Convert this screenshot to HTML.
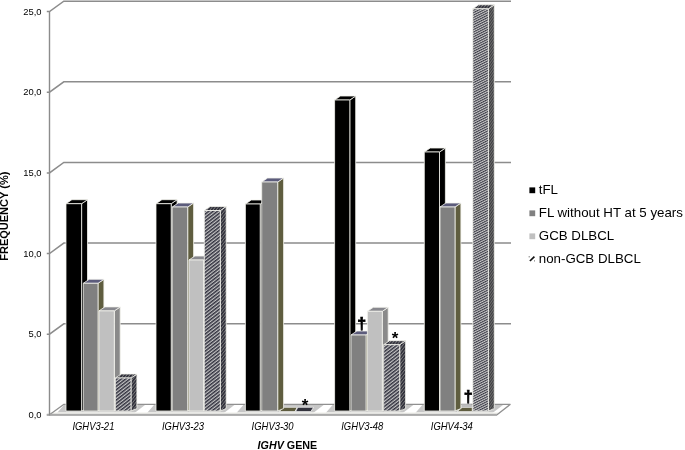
<!DOCTYPE html><html><head><meta charset="utf-8"><title>IGHV gene frequency</title>
<style>html,body{margin:0;padding:0;background:#fff}svg{display:block}text{font-family:"Liberation Sans",Arial,sans-serif;fill:#000}</style></head><body>
<svg width="685" height="450" viewBox="0 0 685 450">
<defs>
<pattern id="hp" width="4" height="2.7" patternUnits="userSpaceOnUse" patternTransform="rotate(-38)"><rect width="4" height="2.7" fill="#c4c4c4"/><rect width="4" height="1.45" fill="#30303e"/></pattern>
<pattern id="hp2" width="4" height="2.15" patternUnits="userSpaceOnUse" patternTransform="rotate(-27)"><rect width="4" height="2.15" fill="#c8c8c8"/><rect width="4" height="1.05" fill="#3a3a46"/></pattern>
<pattern id="hpd" width="4" height="2.4" patternUnits="userSpaceOnUse" patternTransform="rotate(-52)"><rect width="4" height="2.4" fill="#7c7c7c"/><rect width="4" height="1.5" fill="#2c2c38"/></pattern>
<pattern id="hpd2" width="4" height="2" patternUnits="userSpaceOnUse" patternTransform="rotate(-55)"><rect width="4" height="2" fill="#7a7a7a"/><rect width="4" height="1.2" fill="#3c3c40"/></pattern>
</defs>
<rect width="685" height="450" fill="#fff"/>
<path d="M46.8 11.6H49.5L63.8 1.2H511" fill="none" stroke="#8c8c8c" stroke-width="1.5"/>
<path d="M46.8 92.2H49.5L63.8 81.8H511" fill="none" stroke="#8c8c8c" stroke-width="1.5"/>
<path d="M46.8 172.9H49.5L63.8 162.5H511" fill="none" stroke="#8c8c8c" stroke-width="1.5"/>
<path d="M46.8 253.5H49.5L63.8 243.1H511" fill="none" stroke="#8c8c8c" stroke-width="1.5"/>
<path d="M46.8 334.2H49.5L63.8 323.8H511" fill="none" stroke="#8c8c8c" stroke-width="1.5"/>
<path d="M49.5 415L64 404.3H510.4L497 415Z" fill="#c6c6c6"/>
<path d="M44.5 413L55.0 405H64.0L57.0 413Z" fill="#fff"/>
<path d="M134.5 413L145.0 405H154.0L147.0 413Z" fill="#fff"/>
<path d="M223.9 413L234.4 405H243.4L236.4 413Z" fill="#fff"/>
<path d="M313.1 413L323.6 405H332.6L325.6 413Z" fill="#fff"/>
<path d="M402.8 413L413.3 405H422.3L415.3 413Z" fill="#fff"/>
<path d="M492.5 413L503.0 405H512.0L505.0 413Z" fill="#fff"/>
<path d="M49.5 412.2H498V414H49.5Z" fill="#f4f4f0"/>
<path d="M46.8 414.8H497L510.4 404.3H64L49.5 414.8" fill="none" stroke="#909090" stroke-width="1.3" stroke-linejoin="bevel"/>
<path d="M46.8 414.8H497" fill="none" stroke="#aaa" stroke-width="2"/>
<path d="M49.5 11V415.5" stroke="#8c8c8c" stroke-width="1.4" fill="none"/>
<path d="M279.4 411.6L283 407.3H297.2L295 411.6Z" fill="#5f5d3f" stroke="#fff" stroke-width="0.7"/>
<path d="M295.6 411.6L297.8 407.3H313.6L310.8 411.6Z" fill="#33333d" stroke="#fff" stroke-width="0.7"/>
<path d="M457.3 411.5L462 407.4H472.2V411.5Z" fill="#5f5d3f" stroke="#fff" stroke-width="0.6"/>
<rect x="462" y="404.2" width="9.5" height="3" fill="#bdbdbd"/>
<path d="M81.6 411.0V203.7L87.5 199.7V408.5Z" fill="#000" stroke="#f4f4ee" stroke-width="0.8" stroke-linejoin="round"/>
<path d="M66 203.7L71.9 199.7H87.5L81.6 203.7Z" fill="#000" stroke="#f4f4ee" stroke-width="0.8" stroke-linejoin="round"/>
<path d="M66 411.0V203.7H81.6V411.0Z" fill="#000" stroke="#f4f4ee" stroke-width="0.8" stroke-linejoin="round"/>
<path d="M98 411.0V283.3L103.9 279.3V408.5Z" fill="#5f5d3f" stroke="#f4f4ee" stroke-width="0.8" stroke-linejoin="round"/>
<path d="M83.3 283.3L89.2 279.3H103.9L98 283.3Z" fill="#5c5c7c" stroke="#f4f4ee" stroke-width="0.8" stroke-linejoin="round"/>
<path d="M83.3 411.0V283.3H98V411.0Z" fill="#808080" stroke="#f4f4ee" stroke-width="0.8" stroke-linejoin="round"/>
<path d="M114.3 411.0V310.9L120.2 306.9V408.5Z" fill="#8a8a8a" stroke="#f4f4ee" stroke-width="0.8" stroke-linejoin="round"/>
<path d="M99 310.9L104.9 306.9H120.2L114.3 310.9Z" fill="#88888e" stroke="#f4f4ee" stroke-width="0.8" stroke-linejoin="round"/>
<path d="M99 411.0V310.9H114.3V411.0Z" fill="#c0c0c0" stroke="#f4f4ee" stroke-width="0.8" stroke-linejoin="round"/>
<path d="M131 411.0V378L136.9 374.0V408.5Z" fill="url(#hpd)" stroke="#f4f4ee" stroke-width="0.8" stroke-linejoin="round"/>
<path d="M115.4 378L121.3 374.0H136.9L131 378Z" fill="url(#hpd)" stroke="#f4f4ee" stroke-width="0.8" stroke-linejoin="round"/>
<path d="M115.4 411.0V378H131V411.0Z" fill="url(#hp)" stroke="#f4f4ee" stroke-width="0.8" stroke-linejoin="round"/>
<path d="M171.2 411.0V203.7L177.1 199.7V408.5Z" fill="#000" stroke="#f4f4ee" stroke-width="0.8" stroke-linejoin="round"/>
<path d="M156 203.7L161.9 199.7H177.1L171.2 203.7Z" fill="#000" stroke="#f4f4ee" stroke-width="0.8" stroke-linejoin="round"/>
<path d="M156 411.0V203.7H171.2V411.0Z" fill="#000" stroke="#f4f4ee" stroke-width="0.8" stroke-linejoin="round"/>
<path d="M187.7 411.0V207L193.6 203.0V408.5Z" fill="#5f5d3f" stroke="#f4f4ee" stroke-width="0.8" stroke-linejoin="round"/>
<path d="M172.3 207L178.2 203.0H193.6L187.7 207Z" fill="#5c5c7c" stroke="#f4f4ee" stroke-width="0.8" stroke-linejoin="round"/>
<path d="M172.3 411.0V207H187.7V411.0Z" fill="#808080" stroke="#f4f4ee" stroke-width="0.8" stroke-linejoin="round"/>
<path d="M203.7 411.0V260L209.6 256.0V408.5Z" fill="#8a8a8a" stroke="#f4f4ee" stroke-width="0.8" stroke-linejoin="round"/>
<path d="M189 260L194.9 256.0H209.6L203.7 260Z" fill="#88888e" stroke="#f4f4ee" stroke-width="0.8" stroke-linejoin="round"/>
<path d="M189 411.0V260H203.7V411.0Z" fill="#c0c0c0" stroke="#f4f4ee" stroke-width="0.8" stroke-linejoin="round"/>
<path d="M220.3 411.0V210.5L226.2 206.5V408.5Z" fill="url(#hpd)" stroke="#f4f4ee" stroke-width="0.8" stroke-linejoin="round"/>
<path d="M204.3 210.5L210.2 206.5H226.2L220.3 210.5Z" fill="url(#hpd)" stroke="#f4f4ee" stroke-width="0.8" stroke-linejoin="round"/>
<path d="M204.3 411.0V210.5H220.3V411.0Z" fill="url(#hp)" stroke="#f4f4ee" stroke-width="0.8" stroke-linejoin="round"/>
<path d="M260.2 411.0V204L266.1 200.0V408.5Z" fill="#000" stroke="#f4f4ee" stroke-width="0.8" stroke-linejoin="round"/>
<path d="M245.4 204L251.3 200.0H266.1L260.2 204Z" fill="#000" stroke="#f4f4ee" stroke-width="0.8" stroke-linejoin="round"/>
<path d="M245.4 411.0V204H260.2V411.0Z" fill="#000" stroke="#f4f4ee" stroke-width="0.8" stroke-linejoin="round"/>
<path d="M277.7 411.0V182L283.6 178.0V408.5Z" fill="#5f5d3f" stroke="#f4f4ee" stroke-width="0.8" stroke-linejoin="round"/>
<path d="M261.7 182L267.6 178.0H283.6L277.7 182Z" fill="#5c5c7c" stroke="#f4f4ee" stroke-width="0.8" stroke-linejoin="round"/>
<path d="M261.7 411.0V182H277.7V411.0Z" fill="#808080" stroke="#f4f4ee" stroke-width="0.8" stroke-linejoin="round"/>
<path d="M349.8 411.0V100L355.7 96.0V408.5Z" fill="#000" stroke="#f4f4ee" stroke-width="0.8" stroke-linejoin="round"/>
<path d="M334.6 100L340.5 96.0H355.7L349.8 100Z" fill="#000" stroke="#f4f4ee" stroke-width="0.8" stroke-linejoin="round"/>
<path d="M334.6 411.0V100H349.8V411.0Z" fill="#000" stroke="#f4f4ee" stroke-width="0.8" stroke-linejoin="round"/>
<path d="M366 411.0V335L371.9 331.0V408.5Z" fill="#5f5d3f" stroke="#f4f4ee" stroke-width="0.8" stroke-linejoin="round"/>
<path d="M351 335L356.9 331.0H371.9L366 335Z" fill="#5c5c7c" stroke="#f4f4ee" stroke-width="0.8" stroke-linejoin="round"/>
<path d="M351 411.0V335H366V411.0Z" fill="#808080" stroke="#f4f4ee" stroke-width="0.8" stroke-linejoin="round"/>
<path d="M382.3 411.0V311.3L388.2 307.3V408.5Z" fill="#8a8a8a" stroke="#f4f4ee" stroke-width="0.8" stroke-linejoin="round"/>
<path d="M367.4 311.3L373.3 307.3H388.2L382.3 311.3Z" fill="#88888e" stroke="#f4f4ee" stroke-width="0.8" stroke-linejoin="round"/>
<path d="M367.4 411.0V311.3H382.3V411.0Z" fill="#c0c0c0" stroke="#f4f4ee" stroke-width="0.8" stroke-linejoin="round"/>
<path d="M399.7 411.0V344.7L405.6 340.7V408.5Z" fill="url(#hpd)" stroke="#f4f4ee" stroke-width="0.8" stroke-linejoin="round"/>
<path d="M383.7 344.7L389.6 340.7H405.6L399.7 344.7Z" fill="url(#hpd)" stroke="#f4f4ee" stroke-width="0.8" stroke-linejoin="round"/>
<path d="M383.7 411.0V344.7H399.7V411.0Z" fill="url(#hp)" stroke="#f4f4ee" stroke-width="0.8" stroke-linejoin="round"/>
<path d="M439.5 411.0V152L445.4 148.0V408.5Z" fill="#000" stroke="#f4f4ee" stroke-width="0.8" stroke-linejoin="round"/>
<path d="M424.3 152L430.2 148.0H445.4L439.5 152Z" fill="#000" stroke="#f4f4ee" stroke-width="0.8" stroke-linejoin="round"/>
<path d="M424.3 411.0V152H439.5V411.0Z" fill="#000" stroke="#f4f4ee" stroke-width="0.8" stroke-linejoin="round"/>
<path d="M455 411.0V207L460.9 203.0V408.5Z" fill="#5f5d3f" stroke="#f4f4ee" stroke-width="0.8" stroke-linejoin="round"/>
<path d="M440 207L445.9 203.0H460.9L455 207Z" fill="#5c5c7c" stroke="#f4f4ee" stroke-width="0.8" stroke-linejoin="round"/>
<path d="M440 411.0V207H455V411.0Z" fill="#808080" stroke="#f4f4ee" stroke-width="0.8" stroke-linejoin="round"/>
<path d="M488.4 411.0V8.8L494.3 4.8V408.5Z" fill="url(#hpd2)" stroke="#f4f4ee" stroke-width="0.8" stroke-linejoin="round"/>
<path d="M472.8 8.8L478.7 4.8H494.3L488.4 8.8Z" fill="url(#hpd)" stroke="#f4f4ee" stroke-width="0.8" stroke-linejoin="round"/>
<path d="M472.8 411.0V8.8H488.4V411.0Z" fill="url(#hp2)" stroke="#f4f4ee" stroke-width="0.8" stroke-linejoin="round"/>
<text x="41.5" y="14.7" font-size="9.4" text-anchor="end">25,0</text>
<text x="41.5" y="95.3" font-size="9.4" text-anchor="end">20,0</text>
<text x="41.5" y="176.0" font-size="9.4" text-anchor="end">15,0</text>
<text x="41.5" y="256.6" font-size="9.4" text-anchor="end">10,0</text>
<text x="41.5" y="337.3" font-size="9.4" text-anchor="end">5,0</text>
<text x="41.5" y="417.9" font-size="9.4" text-anchor="end">0,0</text>
<text x="72.4" y="429.6" font-size="10.3" font-style="italic" textLength="42" lengthAdjust="spacingAndGlyphs">IGHV3-21</text>
<text x="162.0" y="429.6" font-size="10.3" font-style="italic" textLength="42" lengthAdjust="spacingAndGlyphs">IGHV3-23</text>
<text x="251.6" y="429.6" font-size="10.3" font-style="italic" textLength="42" lengthAdjust="spacingAndGlyphs">IGHV3-30</text>
<text x="341.2" y="429.6" font-size="10.3" font-style="italic" textLength="42" lengthAdjust="spacingAndGlyphs">IGHV3-48</text>
<text x="430.8" y="429.6" font-size="10.3" font-style="italic" textLength="42" lengthAdjust="spacingAndGlyphs">IGHV4-34</text>
<text x="257.6" y="448.6" font-size="10.2" font-weight="bold" textLength="59.6" lengthAdjust="spacingAndGlyphs"><tspan font-style="italic">IGHV</tspan> GENE</text>
<text transform="translate(8.3 260.8) rotate(-90)" font-size="10.2" font-weight="bold" textLength="89.2" lengthAdjust="spacingAndGlyphs">FREQUENCY (%)</text>
<rect x="529.4" y="187.4" width="5.8" height="5.8" fill="#000"/>
<text x="538.8" y="194.4" font-size="13.3">tFL</text>
<rect x="529.4" y="210.4" width="5.8" height="5.8" fill="#808080"/>
<text x="538.8" y="217.4" font-size="13.3">FL without HT at 5 years</text>
<rect x="529.4" y="233.4" width="5.8" height="5.8" fill="#c0c0c0"/>
<text x="538.8" y="240.4" font-size="13.3">GCB DLBCL</text>
<path d="M529.9 261L534.4 256.7" stroke="#111" stroke-width="1.7" fill="none"/><path d="M529.2 256.2v1.2M534.5 260.4v1" stroke="#555" stroke-width="0.9" fill="none"/>
<text x="538.8" y="263.4" font-size="13.3">non-GCB DLBCL</text>
<text x="361.7" y="329" font-size="16" font-weight="bold" text-anchor="middle" stroke="#000" stroke-width="0.7">†</text>
<text x="395" y="344.2" font-size="17" font-weight="bold" text-anchor="middle">*</text>
<text x="305.1" y="411.1" font-size="17" font-weight="bold" text-anchor="middle">*</text>
<text x="468.3" y="402.2" font-size="16" font-weight="bold" text-anchor="middle" stroke="#000" stroke-width="0.7">†</text>
</svg></body></html>
